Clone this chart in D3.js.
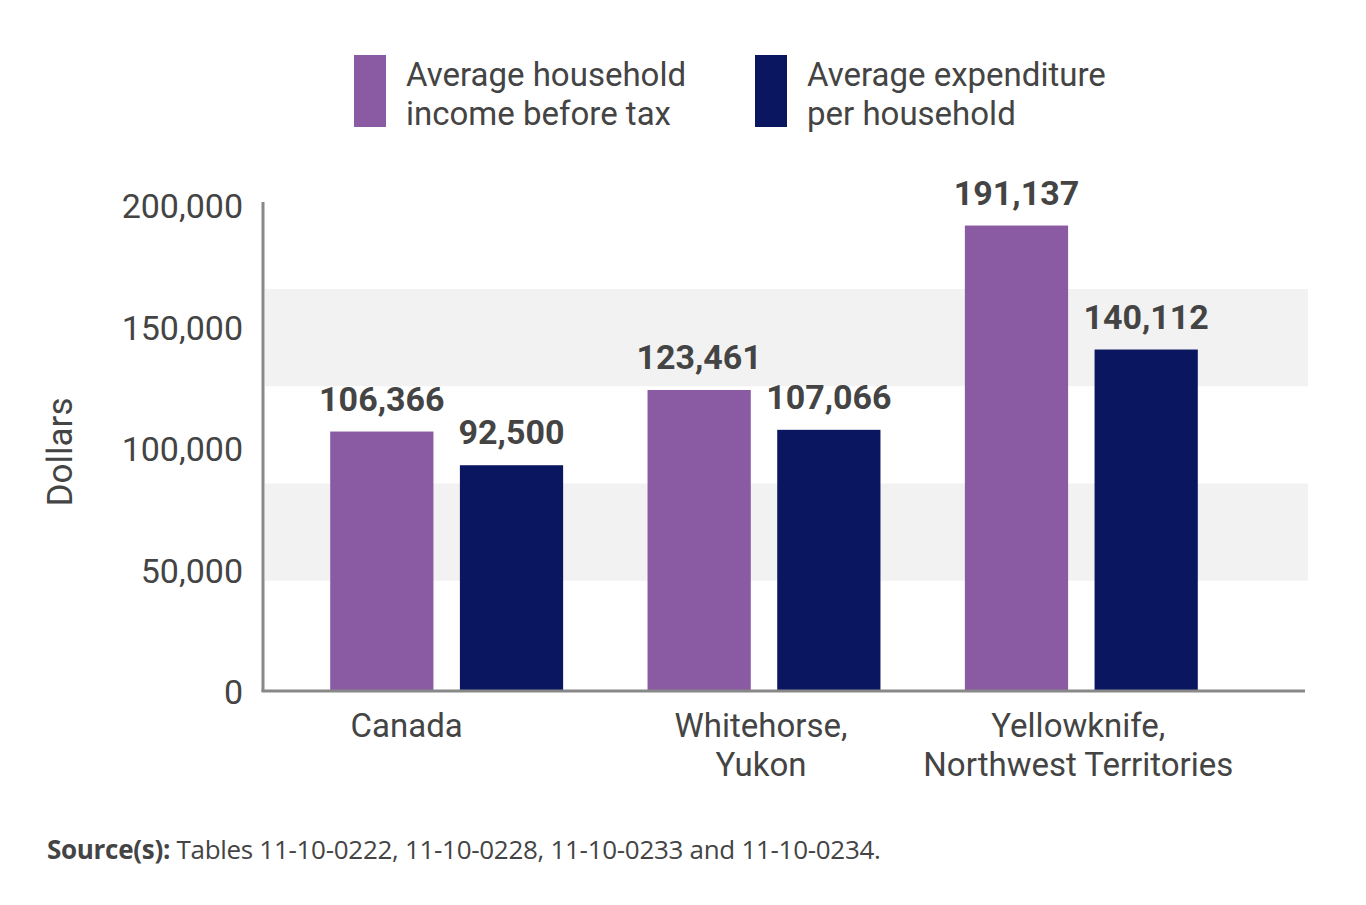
<!DOCTYPE html>
<html>
<head>
<meta charset="utf-8">
<script src="https://cdn.jsdelivr.net/npm/d3@7"></script>
<style>
  body { margin: 0; background: #fff; }
  text { font-family: Roboto, sans-serif; fill: #444; }
</style>
</head>
<body>
<div id="chart"></div>
<script>
// data
const regions = ['Canada', 'Whitehorse, Yukon', 'Yellowknife, Northwest Territories'];
const regionLines = [['Canada'], ['Whitehorse,', 'Yukon'], ['Yellowknife,', 'Northwest Territories']];
const series = ['Average household income before tax', 'Average expenditure per household'];
const seriesLines = [['Average household', 'income before tax'], ['Average expenditure', 'per household']];
const income = [106366, 123461, 191137];
const expenditure = [92500, 107066, 140112];
const yTicks = [0, 50000, 100000, 150000, 200000];
const shadeBands = [[45000, 85000], [125000, 165000]];
const colors = ['#8a5aa3', '#0b1660'];

const W = 1366, H = 905;

const svg = d3.select('#chart').append('svg')
    .attr('width', W)
    .attr('height', H);

// scales
const y = d3.scaleLinear().domain([0, 200000]).range([690, 204]);
const x0 = d3.scaleBand().domain(regions)
    .range([288, 1240])
    .paddingInner(0.266)
    .paddingOuter(0.133);
// two bars ~103px wide with a ~26px gap
const x1 = d3.scaleBand().domain(series)
    .range([0, x0.bandwidth()])
    .paddingInner(0.204);

const axisLeft = 263, axisRight = 1305;

// shaded bands
svg.selectAll('.band')
    .data(shadeBands)
  .enter().append('rect')
    .attr('x', axisLeft + 2)
    .attr('width', 1308 - axisLeft - 2)
    .attr('y', d => y(d[1]))
    .attr('height', d => y(d[0]) - y(d[1]))
    .attr('fill', '#f2f2f2');

// bars
const rows = regions.map((r, i) => ({region: r, values: [income[i], expenditure[i]]}));

const groups = svg.selectAll('.grp')
    .data(rows)
  .enter().append('g')
    .attr('transform', d => 'translate(' + x0(d.region) + ',0)');

groups.selectAll('rect')
    .data(d => d.values.map((v, j) => ({s: series[j], v: v, j: j})))
  .enter().append('rect')
    .attr('x', d => x1(d.s))
    .attr('width', x1.bandwidth())
    .attr('y', d => y(d.v))
    .attr('height', d => y(0) - y(d.v))
    .attr('fill', d => colors[d.j]);

groups.selectAll('.val')
    .data(d => d.values.map((v, j) => ({s: series[j], v: v, j: j})))
  .enter().append('text')
    .attr('text-anchor', 'middle')
    .attr('x', d => x1(d.s) + x1.bandwidth() / 2)
    .attr('y', d => y(d.v) - 21)
    .attr('font-size', '34px')
    .attr('font-weight', 'bold')
    .text(d => d3.format(',')(d.v));

// y axis
const yAxis = svg.append('g')
    .attr('transform', 'translate(' + axisLeft + ',0)')
    .call(d3.axisLeft(y).tickValues(yTicks).tickSize(0).tickPadding(20).tickFormat(d3.format(',')));
yAxis.select('.domain').remove();
yAxis.selectAll('text')
    .attr('font-size', '34px')
    .attr('font-family', 'Roboto, sans-serif')
    .attr('fill', '#444')
    .attr('dy', '0.4em');

svg.append('line')
    .attr('x1', axisLeft).attr('x2', axisLeft)
    .attr('y1', y(200000) - 2).attr('y2', y(0) + 1.5)
    .attr('stroke', '#888').attr('stroke-width', 3);
svg.append('line')
    .attr('x1', axisLeft - 1.5).attr('x2', axisRight)
    .attr('y1', y(0) + 1).attr('y2', y(0) + 1)
    .attr('stroke', '#888').attr('stroke-width', 3);

// x labels (Canada sits left of its group in the original)
const labelShift = {'Canada': -37};
const xl = svg.selectAll('.xl')
    .data(regions)
  .enter().append('text')
    .attr('text-anchor', 'middle')
    .attr('font-size', '33px')
    .attr('x', d => x0(d) + x0.bandwidth() / 2 + (labelShift[d] || 0) - 3)
    .attr('y', 737);
xl.selectAll('tspan')
    .data((d, i) => regionLines[i])
  .enter().append('tspan')
    .attr('x', function() { return this.parentNode.getAttribute('x'); })
    .attr('dy', (d, i) => i === 0 ? 0 : 39)
    .text(d => d);

// y title
svg.append('text')
    .attr('transform', 'translate(72,452) rotate(-90)')
    .attr('text-anchor', 'middle')
    .attr('font-size', '35px')
    .text('Dollars');

// legend
const legendX = [354, 755];
const leg = svg.selectAll('.leg')
    .data(series)
  .enter().append('g')
    .attr('transform', (d, i) => 'translate(' + legendX[i] + ',55)');
leg.append('rect')
    .attr('width', 32)
    .attr('height', 72)
    .attr('fill', (d, i) => colors[i]);
leg.append('text')
    .attr('x', 52)
    .attr('y', 31)
    .attr('font-size', '33px')
  .selectAll('tspan')
    .data((d, i) => seriesLines[i])
  .enter().append('tspan')
    .attr('x', 52)
    .attr('dy', (d, i) => i === 0 ? 0 : 39)
    .text(d => d);

// source note
const src = svg.append('text')
    .attr('x', 47)
    .attr('y', 859)
    .attr('font-size', '26px')
    .attr('letter-spacing', '-0.3px')
    .style('font-family', '"Open Sans", sans-serif');
src.append('tspan').attr('font-weight', 'bold').text('Source(s):');
src.append('tspan').text(' Tables 11-10-0222, 11-10-0228, 11-10-0233 and 11-10-0234.');
</script>
</body>
</html>
